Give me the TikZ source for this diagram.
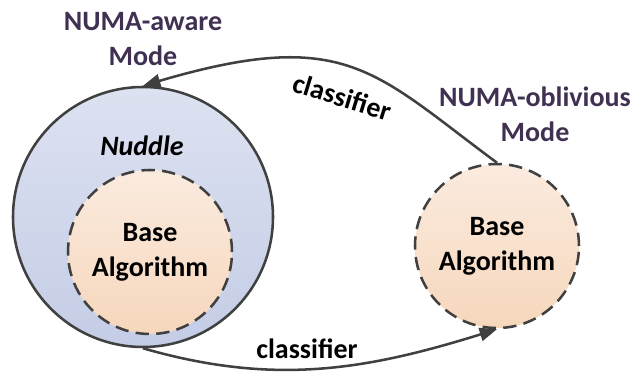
\documentclass[tikz,border=0pt]{standalone}
\usepackage{fontspec}
\setmainfont{Carlito}
\usetikzlibrary{arrows.meta}
\definecolor{linegray}{RGB}{64,64,64}
\definecolor{modepurple}{RGB}{64,49,82}
\definecolor{bluetop}{RGB}{221,226,241}
\definecolor{bluebot}{RGB}{196,205,230}
\definecolor{peachtop}{RGB}{251,235,223}
\definecolor{peachbot}{RGB}{246,215,188}
\begin{document}
\begin{tikzpicture}[x=0.75pt,y=-0.75pt,
  txt/.style={font=\fontsize{21pt}{26pt}\selectfont\bfseries, align=center, inner sep=0pt},
  modetxt/.style={txt, text=modepurple},
  outer/.style={circle, draw=linegray, line width=1.9pt, minimum size=195pt, inner sep=0pt,
    top color=bluetop, bottom color=bluebot},
  basecirc/.style={circle, draw=linegray, line width=1.9pt, dash pattern=on 10pt off 5.5pt,
    minimum size=123pt, inner sep=0pt, top color=peachtop, bottom color=peachbot,
    font=\fontsize{21pt}{26pt}\selectfont\bfseries, align=center},
  conn/.style={draw=linegray, line width=1.9pt, -{Triangle[length=13pt,width=10pt]}}]
\useasboundingbox (0,0) rectangle (636,374);
\node[outer] (B) at (143,217) {};
\node[basecirc] (I) at (150,252) {Base\\Algorithm};
\node[txt, font=\fontsize{21pt}{26pt}\selectfont\bfseries\itshape] (N) at (142,146) {Nuddle};
\node[basecirc] (R) at (497,246) {Base\\Algorithm};
\node[modetxt, anchor=north] (MA) at (143,12) {NUMA-aware\\Mode};
\node[modetxt, anchor=north] (MO) at (535,87) {NUMA-oblivious\\Mode};
\draw[conn] (R.north) .. controls (374,72) and (346,26) .. (B.north);
\draw[conn] (B.south) .. controls (274,386) and (366,370) .. (R.south);
\node[txt, rotate=-17] (C1) at (342,97) {classifier};
\node[txt] (C2) at (307,349) {classifier};
\end{tikzpicture}
\end{document}
